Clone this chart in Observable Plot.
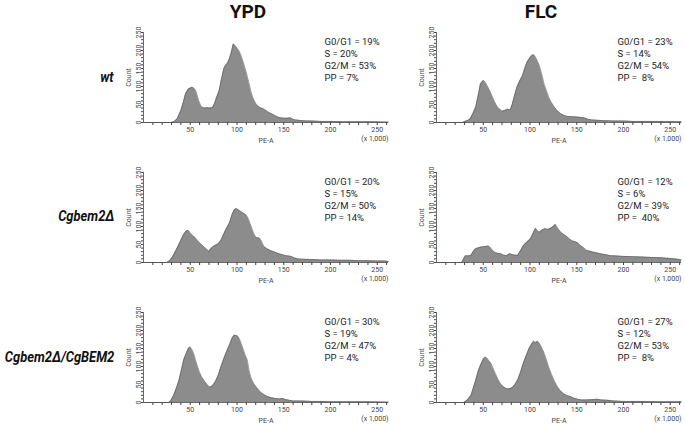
<!DOCTYPE html>
<html>
<head>
<meta charset="utf-8">
<script src="https://cdn.jsdelivr.net/npm/d3@7"></script>
<script src="https://cdn.jsdelivr.net/npm/@observablehq/plot@0.6"></script>
<style>
  html, body { margin: 0; padding: 0; background: #fff; overflow: hidden; }
  #root { position: relative; width: 685px; height: 426px; font-family: Roboto, "Liberation Sans", sans-serif; }
  .panel { position: absolute; }
  .coltitle { position: absolute; top: 0px; font-family: Roboto, sans-serif; font-weight: 700; font-size: 19px; color: #111; transform: translateX(-50%); }
  .rowlabel { position: absolute; right: 571px; font-family: Roboto, sans-serif; font-weight: 700; font-style: italic; font-size: 15px; color: #111; transform-origin: 100% 50%; transform: translateY(-50%) scaleX(0.86); white-space: nowrap; }
</style>
</head>
<body>
<div id="root"></div>
<script>
// ---- data (PE-A in x1,000 ; Count) ----
const conditions = ["YPD", "FLC"];
const strains = ["wt", "Cgbem2Δ", "Cgbem2Δ/CgBEM2"];

const wtYPD = [[0,0],[30,0],[33,3],[36,10],[40,33],[43,60],[45,80],[48,93],[52,98],[54,95],[56,88],[59,61],[61,48],[63,42],[65,40],[68,41],[71,40],[74,42],[76,52],[78,68],[81,89],[83,115],[86,150],[88,160],[90,165],[92,178],[94,195],[96,218],[98,214],[100,206],[102,200],[104,188],[107,165],[110,138],[113,107],[115,85],[117,68],[120,53],[122,46],[125,41],[128,38],[131,33],[134,28],[137,24],[140,20],[143,16],[146,13],[150,12],[154,12],[157,13],[159,10],[162,7],[166,6],[170,5],[175,4],[180,4],[190,3],[200,3],[215,2],[230,2],[245,2],[262,1]];
const wtFLC = [[0,0],[28,0],[30,3],[33,5],[36,10],[39,25],[42,43],[45,80],[47,107],[50,117],[52,112],[54,103],[57,88],[60,70],[62,58],[65,43],[68,36],[70,31],[73,33],[76,37],[79,35],[81,50],[83,70],[86,98],[89,115],[92,130],[95,155],[97,168],[100,180],[102,186],[104,188],[106,181],[108,170],[110,158],[113,130],[115,107],[118,85],[120,70],[123,55],[126,43],[129,33],[133,24],[137,19],[140,17],[145,16],[150,15],[155,14],[158,13],[162,9],[166,7],[172,6],[180,5],[190,4],[200,4],[210,3],[225,3],[240,3],[262,2]];
const bem2YPD = [[0,0],[25,0],[28,5],[31,15],[34,30],[37,45],[40,62],[43,78],[46,88],[48,89],[50,82],[52,76],[55,70],[58,60],[61,52],[64,45],[67,38],[70,31],[72,38],[74,43],[77,48],[80,52],[83,62],[86,80],[89,96],[92,110],[95,135],[97,146],[99,150],[101,147],[104,142],[107,137],[110,131],[112,122],[114,108],[116,94],[118,80],[120,70],[122,68],[124,68],[126,60],[128,48],[130,42],[133,37],[136,33],[140,29],[145,24],[148,22],[152,19],[155,18],[158,17],[161,13],[165,10],[170,9],[180,8],[190,7],[200,7],[210,6],[220,6],[230,5],[240,5],[250,4],[258,4],[262,3]];
const bem2FLC = [[0,0],[27,0],[29,10],[31,19],[34,18],[37,20],[40,33],[42,38],[45,41],[48,43],[52,44],[55,46],[57,43],[60,33],[63,27],[66,25],[69,24],[72,20],[75,19],[78,24],[81,22],[84,20],[87,20],[90,33],[93,47],[96,55],[99,62],[101,68],[104,85],[106,95],[108,88],[110,84],[113,90],[116,94],[119,92],[122,95],[125,100],[127,106],[129,98],[131,90],[133,84],[136,78],[139,73],[142,66],[145,60],[148,58],[151,55],[154,47],[157,42],[160,34],[163,32],[167,29],[171,27],[175,24],[180,22],[186,19],[193,18],[200,17],[210,16],[220,15],[230,14],[240,13],[250,11],[256,10],[262,7]];
const compYPD = [[0,0],[27,0],[29,4],[32,18],[35,38],[38,62],[41,95],[43,118],[46,138],[48,150],[50,154],[52,146],[54,133],[56,115],[58,98],[60,83],[62,72],[65,60],[68,50],[70,44],[72,43],[74,47],[77,58],[80,76],[83,100],[86,122],[89,142],[92,160],[95,180],[97,187],[99,186],[101,184],[103,174],[105,160],[107,145],[109,130],[111,118],[113,88],[115,68],[118,52],[121,42],[124,32],[127,25],[130,20],[133,16],[137,13],[141,11],[145,10],[149,11],[152,8],[156,6],[160,4],[170,4],[180,3],[190,3],[200,2],[220,2],[240,2],[262,1]];
const compFLC = [[0,0],[29,0],[31,3],[34,10],[37,20],[40,45],[42,62],[45,90],[47,103],[50,120],[52,126],[54,123],[56,116],[58,110],[60,98],[63,80],[66,63],[69,50],[72,43],[75,38],[78,38],[81,41],[84,50],[87,63],[90,85],[93,110],[96,130],[99,150],[102,163],[104,170],[106,166],[108,170],[110,165],[112,155],[115,138],[118,115],[120,98],[123,78],[126,60],[129,45],[132,34],[136,24],[140,19],[144,16],[147,12],[151,9],[155,7],[160,7],[168,8],[172,9],[176,7],[183,6],[190,4],[200,3],[220,3],[240,2],[262,2]];

const wtYPDText = ["G0/G1 = 19%", "S = 20%", "G2/M = 53%", "PP = 7%"];
const wtFLCText = ["G0/G1 = 23%", "S = 14%", "G2/M = 54%", "PP =  8%"];
const bem2YPDText = ["G0/G1 = 20%", "S = 15%", "G2/M = 50%", "PP = 14%"];
const bem2FLCText = ["G0/G1 = 12%", "S = 6%", "G2/M = 39%", "PP =  40%"];
const compYPDText = ["G0/G1 = 30%", "S = 19%", "G2/M = 47%", "PP = 4%"];
const compFLCText = ["G0/G1 = 27%", "S = 12%", "G2/M = 53%", "PP =  8%"];

const xTicks = d3.range(10, 261, 10);
const yTicks = d3.range(0, 251, 10);
const xUnit = "(x 1,000)";

const panels = [
  [wtYPD, wtYPDText, wtFLC, wtFLCText],
  [bem2YPD, bem2YPDText, bem2FLC, bem2FLCText],
  [compYPD, compYPDText, compFLC, compFLCText]
];

const root = document.getElementById("root");
const colLeft = [100, 393];
const rowTop = [22, 162, 302];
const colCenter = [248, 541];
const rowCenter = [77, 216, 357];

conditions.forEach((c, j) => {
  const d = document.createElement("div");
  d.className = "coltitle";
  d.style.left = colCenter[j] + "px";
  d.textContent = c;
  root.appendChild(d);
});
strains.forEach((s, i) => {
  const d = document.createElement("div");
  d.className = "rowlabel";
  d.style.top = rowCenter[i] + "px";
  d.textContent = s;
  root.appendChild(d);
});

function panel(series, text) {
  const pts = series.map(([pe, count]) => ({pe, count}));
  return Plot.plot({
    width: 290, height: 124,
    marginLeft: 43, marginRight: 2, marginTop: 10, marginBottom: 24,
    style: {fontFamily: "Roboto, 'Liberation Sans', sans-serif", fontSize: "7px", color: "#444", background: "transparent", overflow: "visible"},
    x: {domain: [0, 262], ticks: xTicks, tickFormat: d => d % 50 === 0 ? d : "", tickSize: 3, tickPadding: 2, label: "PE-A", labelAnchor: "center", labelOffset: 20, labelArrow: "none"},
    y: {domain: [0, 250], ticks: yTicks, tickFormat: d => d % 50 === 0 ? d : "", tickSize: 2, tickPadding: 1, tickRotate: -90, label: "Count", labelAnchor: "center", labelOffset: 17, labelArrow: "none"},
    marks: [
      Plot.areaY(pts, {x: "pe", y: "count", fill: "#8c8c8c", curve: "linear"}),
      Plot.lineY(pts, {x: "pe", y: "count", stroke: "#5c5c5c", strokeWidth: 0.6, curve: "linear"}),
      Plot.ruleY([0], {stroke: "#444", strokeWidth: 0.8}),
      Plot.ruleX([0], {stroke: "#444", strokeWidth: 0.8}),
      Plot.text([text.join("\n")], {frameAnchor: "top-left", textAnchor: "start", lineAnchor: "top", dx: 181, dy: 4, fontSize: 9.5, lineHeight: 1.27, fill: "#222"}),
      Plot.text([xUnit], {frameAnchor: "bottom-right", textAnchor: "end", lineAnchor: "top", dy: 14, fontSize: 7, fill: "#444"})
    ]
  });
}

panels.forEach((row, i) => {
  [0, 1].forEach(j => {
    const svg = panel(row[j * 2], row[j * 2 + 1]);
    const wrap = document.createElement("div");
    wrap.className = "panel";
    wrap.style.left = colLeft[j] + "px";
    wrap.style.top = rowTop[i] + "px";
    wrap.appendChild(svg);
    root.appendChild(wrap);
  });
});
</script>
</body>
</html>
